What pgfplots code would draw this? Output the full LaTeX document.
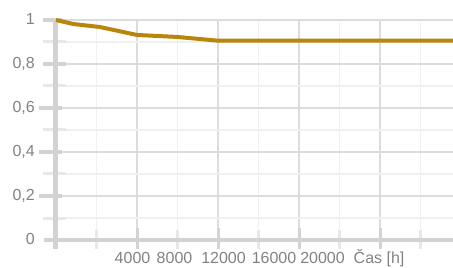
\documentclass[border=0pt]{standalone}
\usepackage{pgfplots}
\pgfplotsset{compat=1.18}
\usepackage{fontspec}
\setmainfont{Liberation Sans}
\definecolor{gold}{RGB}{184,134,11}
\definecolor{majgrid}{RGB}{220,220,220}
\definecolor{mingrid}{RGB}{240,240,240}
\definecolor{axcol}{RGB}{211,211,211}
\definecolor{tickmin}{RGB}{232,232,232}
\definecolor{lab}{RGB}{130,130,130}
\tikzset{lbl/.style={text=lab, font=\fontsize{16}{19}\selectfont, inner sep=0pt}}
\begin{document}
\begin{tikzpicture}
\begin{axis}[
  at={(0,0)}, anchor=origin,
  scale only axis, width=397pt, height=220pt,
  xmin=0, xmax=19600, ymin=0, ymax=1,
  clip=false,
  scaled x ticks=false, scaled y ticks=false,
  axis line style={draw=none},
  xtick={4000,8000,12000,16000},
  minor xtick={2000,6000,10000,14000,18000},
  ytick={0,0.2,0.4,0.6,0.8,1},
  minor ytick={0.1,0.3,0.5,0.7,0.9},
  xticklabels={}, yticklabels={},
  major tick length=0pt, minor tick length=0pt,
  grid=both,
  major grid style={majgrid, line width=1.6pt},
  minor grid style={mingrid, line width=1.6pt},
  every tick/.style={draw=none},
]
% y axis stubs
\draw[axcol, line width=3.5pt] (axis cs:-840,0.2) -- (axis cs:296,0.2);
\draw[axcol, line width=3.5pt] (axis cs:-840,0.4) -- (axis cs:296,0.4);
\draw[axcol, line width=3.5pt] (axis cs:-840,0.6) -- (axis cs:296,0.6);
\draw[axcol, line width=3.5pt] (axis cs:-642,0.8) -- (axis cs:500,0.8);
\draw[axcol, line width=3.5pt] (axis cs:-642,1) -- (axis cs:296,1);
\draw[tickmin, line width=3pt] (axis cs:-642,0.1) -- (axis cs:494,0.1);
\draw[tickmin, line width=3pt] (axis cs:-642,0.3) -- (axis cs:494,0.3);
\draw[tickmin, line width=3pt] (axis cs:-642,0.5) -- (axis cs:494,0.5);
\draw[tickmin, line width=3pt] (axis cs:-642,0.7) -- (axis cs:494,0.7);
\draw[tickmin, line width=3pt] (axis cs:-642,0.9) -- (axis cs:494,0.9);
% x stubs
\draw[axcol, line width=3pt] (axis cs:4000,0.0545) -- (axis cs:4000,-0.041);
\draw[axcol, line width=3pt] (axis cs:8000,0.0545) -- (axis cs:8000,-0.041);
\draw[axcol, line width=3pt] (axis cs:12000,0.0545) -- (axis cs:12000,-0.041);
\draw[axcol, line width=3pt] (axis cs:16000,0.0545) -- (axis cs:16000,-0.041);
\draw[tickmin, line width=3pt] (axis cs:2000,0.0455) -- (axis cs:2000,-0.041);
\draw[tickmin, line width=3pt] (axis cs:6000,0.0455) -- (axis cs:6000,-0.041);
\draw[tickmin, line width=3pt] (axis cs:10000,0.0455) -- (axis cs:10000,-0.041);
\draw[tickmin, line width=3pt] (axis cs:14000,0.0455) -- (axis cs:14000,-0.041);
\draw[tickmin, line width=3pt] (axis cs:18000,0.0455) -- (axis cs:18000,-0.041);
% axis lines
\draw[axcol, line width=4pt] (axis cs:-593,0) -- (axis cs:19600,0);
\draw[axcol, line width=5pt] (axis cs:0,1.01) -- (axis cs:0,-0.041);
% data
\addplot[gold, line width=4pt] coordinates {
 (0,1) (840,0.982) (2173,0.968) (4000,0.932) (5975,0.923) (8000,0.906) (19600,0.906)
};
% y labels
\node[lbl, anchor=base east] at (axis cs:-1037,-0.0227) {0};
\node[lbl, anchor=base east] at (axis cs:-1037,0.1773) {0,2};
\node[lbl, anchor=base east] at (axis cs:-1037,0.3773) {0,4};
\node[lbl, anchor=base east] at (axis cs:-1037,0.5773) {0,6};
\node[lbl, anchor=base east] at (axis cs:-1037,0.7773) {0,8};
\node[lbl, anchor=base east] at (axis cs:-1037,0.9773) {1};
% x labels
\node[lbl, anchor=base] at (axis cs:3778,-0.109) {4000};
\node[lbl, anchor=base] at (axis cs:5852,-0.109) {8000};
\node[lbl, anchor=base] at (axis cs:8272,-0.109) {12000};
\node[lbl, anchor=base] at (axis cs:10765,-0.109) {16000};
\node[lbl, anchor=base] at (axis cs:13160,-0.109) {20000};
\node[lbl, anchor=base] at (axis cs:15951,-0.109) {Čas [h]};
\end{axis}
\pgfresetboundingbox
\useasboundingbox (-56pt,-28pt) rectangle (397pt,240pt);
\end{tikzpicture}
\end{document}
